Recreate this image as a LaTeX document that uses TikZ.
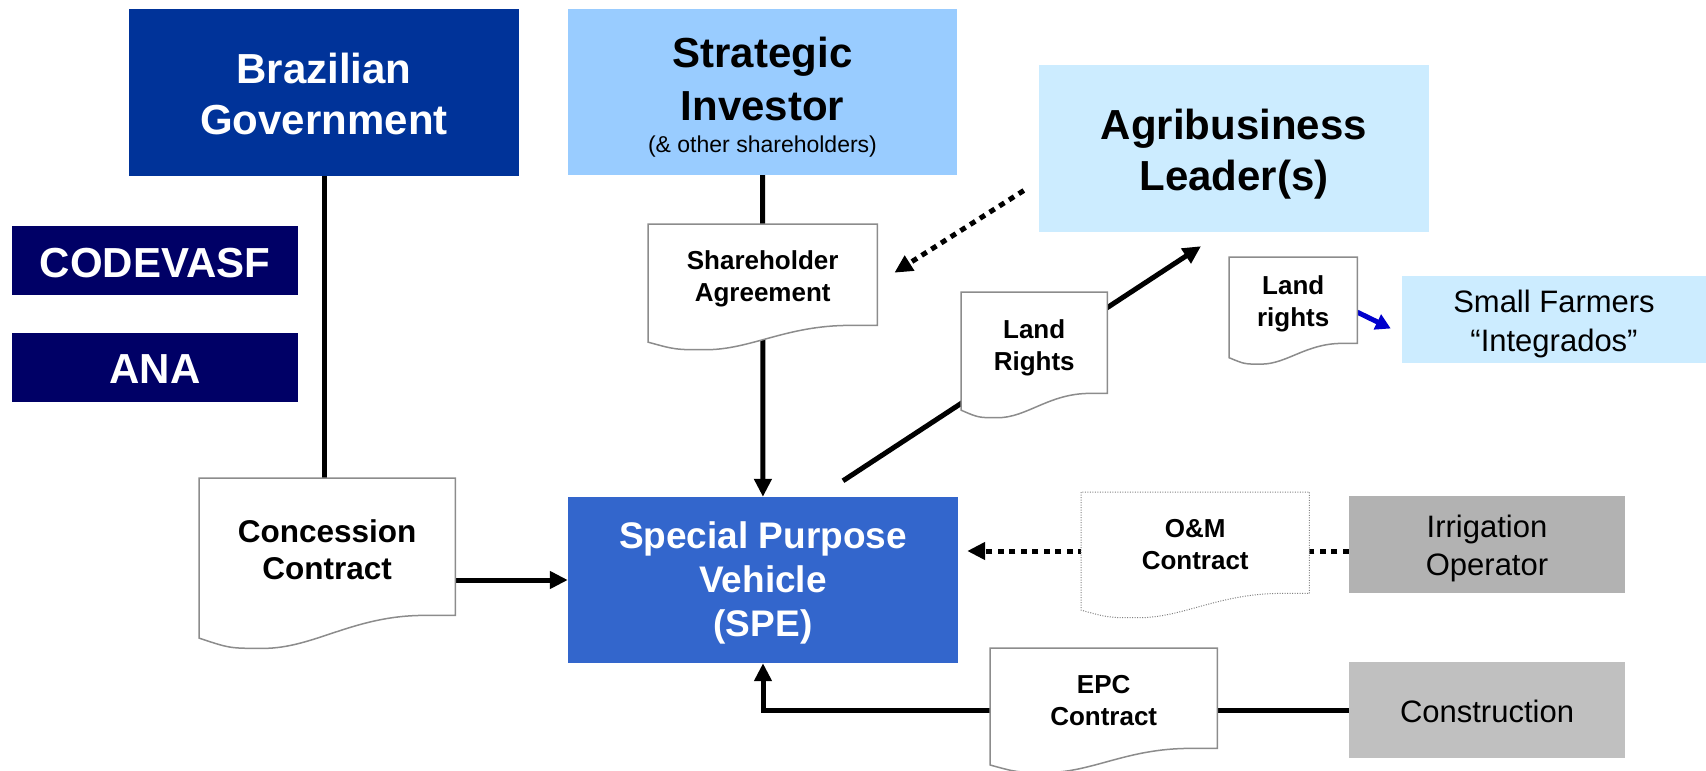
\documentclass[tikz,border=0pt]{standalone}
\usepackage{fontspec}
\setmainfont{Liberation Sans}
\usetikzlibrary{arrows.meta,calc,backgrounds}
\definecolor{govblue}{RGB}{0,51,153}
\definecolor{navy}{RGB}{0,0,102}
\definecolor{invblue}{RGB}{153,204,255}
\definecolor{paleblue}{RGB}{204,236,255}
\definecolor{speblue}{RGB}{51,102,204}
\definecolor{opgray}{RGB}{178,178,178}
\definecolor{congray}{RGB}{192,192,192}
\definecolor{docgray}{RGB}{140,140,140}
\definecolor{farmblue}{RGB}{0,0,204}
\newcommand{\fs}[2]{\fontsize{#1}{#2}\selectfont}
\newcommand{\docshape}[2][]{
    \draw[docline,#1] let \p1=(#2.north west), \p2=(#2.south east),
      \n1={\x2-\x1}, \n2={\y1-\y2} in
      (\p2) -- (\x2,\y1) -- (\p1) -- ({\x1},{\y2-0.165*\n2})
      .. controls ({\x1+0.12*\n1},{\y2-0.24*\n2}) .. ({\x1+0.25*\n1},{\y2-0.24*\n2})
      .. controls ({\x1+0.45*\n1},{\y2-0.24*\n2}) and ({\x1+0.6*\n1},{\y2}) .. ({\x1+0.88*\n1},{\y2})
      -- cycle;
}
\tikzset{
    box/.style={rectangle, inner sep=0pt, align=center, text depth=0pt},
    docnode/.style={rectangle, inner sep=0pt, align=center, anchor=north west, text depth=0pt, font=\bfseries\fs{26}{32}},
    docline/.style={draw=docgray, line width=1.5pt, fill=white},
    omline/.style={draw=gray, line width=1pt, dash pattern=on 1pt off 1.5pt},
    conn/.style={line width=5pt},
    arr/.style={line width=5pt, -{Triangle[length=18pt,width=17pt]}},
    dotarr/.style={arr, dash pattern=on 6pt off 5.5pt},
    farmarr/.style={line width=5pt, farmblue, -{Triangle[length=15pt,width=16pt]}}
}
\begin{document}
\begin{tikzpicture}[x=1pt,y=-1pt]
\useasboundingbox (0,0) rectangle (1706,771);
\node[box, fill=govblue, text=white, text height=84pt, minimum width=390pt, minimum height=167pt, font=\bfseries\fs{42}{51}] (gov) at (324,92) {Brazilian\\Government};
\node[box, fill=navy, text=white, text height=33pt, minimum width=286pt, minimum height=69pt, font=\bfseries\fs{42}{51}] (codevasf) at (155,260.5) {CODEVASF};
\node[box, fill=navy, text=white, text height=31pt, minimum width=286pt, minimum height=69pt, font=\bfseries\fs{42}{51}] (ana) at (155,367.5) {ANA};
\node[box, fill=invblue, text height=120pt, minimum width=389pt, minimum height=166pt, font=\bfseries\fs{42}{53}] (inv) at (762.5,92) {Strategic\\Investor\\[-21pt]{\mdseries\fs{23}{32}(\& other shareholders)}};
\node[box, fill=paleblue, text height=83pt, minimum width=390pt, minimum height=167pt, font=\bfseries\fs{42}{51}] (agri) at (1234,148.5) {Agribusiness\\Leader(s)};
\node[box, fill=speblue, text=white, text height=113pt, minimum width=390pt, minimum height=166pt, font=\bfseries\fs{37}{44}] (spe) at (763,580) {Special Purpose\\Vehicle\\(SPE)};
\node[box, fill=paleblue, text height=64pt, minimum width=304pt, minimum height=87pt, font=\fs{31}{39}] (farm) at (1554,319.5) {Small Farmers\\``Integrados''};
\node[box, fill=opgray, text height=61pt, minimum width=276pt, minimum height=97pt, font=\fs{31}{38}] (irr) at (1487,544.5) {Irrigation\\Operator};
\node[box, fill=congray, text height=25pt, minimum width=276pt, minimum height=96pt, font=\fs{31}{38}] (cons) at (1487,710) {Construction};
\node[docnode, text height=65pt, minimum width=256pt, minimum height=137pt, font=\bfseries\fs{31.5}{37}] (conc) at (199,478) {Concession\\Contract};
\node[docnode, text height=54pt, minimum width=229pt, minimum height=101pt] (sha) at (648,224) {Shareholder\\Agreement};
\node[docnode, text height=55pt, minimum width=146pt, minimum height=101pt] (lrm) at (961,292) {Land\\Rights};
\node[docnode, text height=53pt, minimum width=128pt, minimum height=86pt] (lrr) at (1229,257) {Land\\rights};
\node[docnode, text height=53pt, minimum width=228pt, minimum height=101pt] (om) at (1081,492) {O\&M\\Contract};
\node[docnode, text height=54pt, minimum width=227pt, minimum height=100pt] (epc) at (990,648) {EPC\\Contract};
\coordinate (lrfoot) at ($(spe.north)+(80,-16)$);
\coordinate (lrtip) at ($(agri.south)+(-33,14)$);
\coordinate (agrifoot) at ($(agri.west)+(-15,42)$);
\coordinate (shatip) at ($(sha.east)+(17,-2)$);
\coordinate (omrow) at ([yshift=-6.5pt]irr.west);
\coordinate (farmtip) at ($(farm.west)+(-11,9)$);
\begin{scope}[on background layer]
    \draw[conn] (gov.south) -- (gov.south |- conc.north);
    \draw[arr] (conc.east |- spe) -- (spe);
    \draw[conn] (inv) -- (sha);
    \draw[arr] (sha) -- (spe);
    \draw[arr] (lrfoot) -- (lrtip);
    \draw[dotarr] (agrifoot) -- (shatip);
    \draw[farmarr] ([yshift=-12pt]lrr.east) -- (farmtip);
    \draw[dotarr, shorten >=9pt] (omrow) -- (omrow -| spe.east);
    \draw[arr] (cons.west) -| (spe.south);
    \docshape{conc}
    \docshape{sha}
    \docshape{lrm}
    \docshape{lrr}
    \docshape[omline]{om}
    \docshape{epc}
\end{scope}
\end{tikzpicture}
\end{document}
